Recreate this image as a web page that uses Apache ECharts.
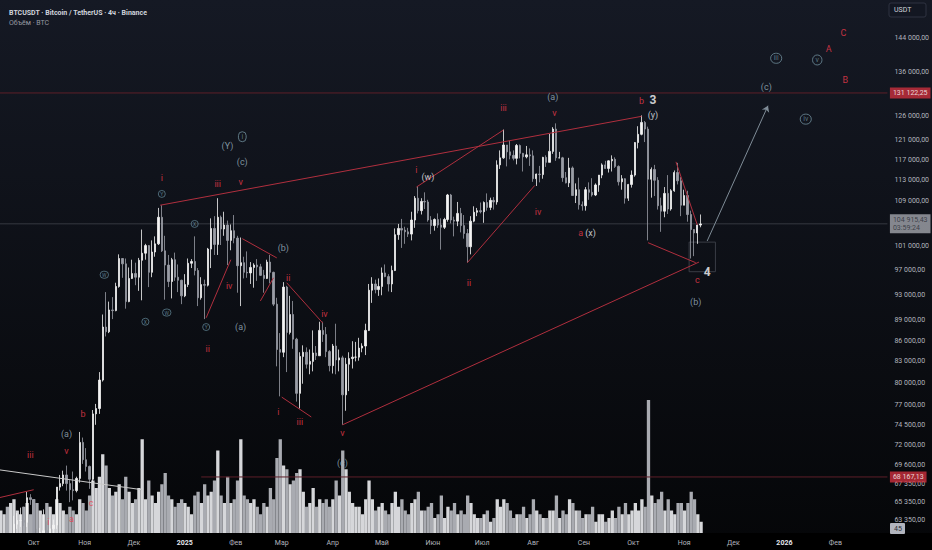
<!DOCTYPE html>
<html><head><meta charset="utf-8">
<script src="https://cdn.jsdelivr.net/npm/echarts@6/dist/echarts.min.js"></script>
<style>html,body{margin:0;padding:0;background:#000}#c{width:932px;height:550px}</style>
</head><body><div id="c"></div><script>
// ---------- data (BTCUSDT, 2-day candles, prices in thousands USDT) ----------
const startDate = '2024-09-10';
const slotDays = 2;
const firstOpen = 57.0;
const closes = [
57.3,60.5,59.1,60.3,62.9,63.3,63.3,63.1,65.8,65.6,
60.8,60.7,62.0,62.2,60.6,62.4,62.8,67.0,67.4,68.4,
67.4,66.7,66.6,68.0,72.3,70.2,69.4,67.9,75.9,76.6,
80.4,88.0,87.3,90.6,90.5,94.3,98.9,98.0,91.9,95.6,
96.4,95.8,98.6,99.8,101.1,96.6,100.0,101.4,106.1,100.2,
97.8,95.1,98.7,95.8,95.3,92.8,94.6,98.1,98.4,96.9,
92.5,94.6,94.5,100.5,104.1,101.3,106.1,104.0,104.7,102.0,
103.7,102.4,97.7,98.2,96.6,96.5,97.4,97.8,97.5,96.1,
95.6,98.3,96.6,91.5,84.7,84.3,94.2,87.2,89.9,86.2,
78.6,83.7,84.3,82.6,83.0,84.2,83.8,87.5,86.9,84.4,
82.4,85.2,83.2,83.5,78.4,82.6,83.4,83.6,83.6,84.9,
85.2,87.5,93.7,94.7,93.8,94.3,96.5,95.9,94.7,96.9,
103.0,104.1,103.8,103.5,103.1,105.6,109.6,107.3,109.0,108.9,
105.6,104.6,105.7,104.7,104.3,105.7,110.2,105.6,105.4,106.8,
104.6,103.2,100.9,105.4,107.0,107.3,107.1,108.8,107.9,109.2,
108.9,116.0,117.4,120.0,118.6,117.9,117.3,119.9,118.3,117.6,
118.0,117.8,113.3,114.2,114.1,117.5,116.5,118.7,123.3,117.4,
117.4,113.5,112.5,115.4,110.1,111.2,108.4,108.2,111.2,110.7,
110.2,112.1,114.0,116.0,115.3,116.8,117.1,115.7,112.7,113.3,
109.6,112.2,114.0,120.5,122.2,124.7,123.3,113.2,115.1,113.0,
108.2,107.2,110.5,107.6,111.0,114.5,112.9,108.3,110.1,106.6,
103.9,103.3,104.7,104.9];
const highs = [
58.0,60.6,60.6,61.3,63.8,64.1,64.7,64.8,66.5,66.2,
65.6,62.4,62.5,64.5,63.2,63.4,63.4,67.0,68.4,68.9,
69.5,67.8,68.8,68.2,73.6,72.9,71.6,69.5,76.4,77.2,
81.5,89.9,93.4,91.9,92.6,94.9,99.6,98.8,98.9,97.4,
98.7,98.2,99.0,103.9,101.4,101.2,102.0,102.7,107.8,108.3,
102.8,99.5,99.0,99.9,97.9,95.4,96.3,98.9,98.8,102.7,
97.3,95.8,95.4,100.7,105.9,106.3,109.6,106.4,107.1,105.5,
104.8,106.5,102.8,102.5,99.2,100.1,98.3,98.1,98.8,98.0,
97.0,98.7,99.5,96.7,92.5,87.1,95.0,94.4,92.8,92.0,
86.4,84.3,85.3,85.0,84.7,87.5,85.2,88.8,88.8,88.0,
84.6,85.5,88.5,84.7,83.8,83.5,84.3,85.9,85.8,86.4,
85.6,88.5,94.7,95.8,95.4,95.6,97.4,97.9,96.3,97.7,
104.1,104.9,105.8,104.4,104.2,107.1,110.0,111.9,109.6,110.7,
109.3,106.3,105.9,106.8,105.9,106.0,110.4,110.4,106.2,108.9,
107.8,106.5,104.0,106.3,108.1,107.8,108.8,109.0,110.5,109.7,
109.8,116.9,118.9,123.2,120.0,120.9,118.9,120.2,120.1,118.4,
119.8,119.3,118.9,114.3,115.8,117.6,117.9,122.3,123.7,124.5,
118.6,117.6,114.6,117.4,115.7,112.4,113.5,109.0,111.7,112.6,
113.4,112.4,114.0,116.3,116.8,116.9,117.9,117.5,115.9,114.0,
113.4,112.3,114.9,120.6,123.9,126.2,125.0,123.8,115.5,116.0,
113.6,109.7,111.7,114.0,111.3,114.9,116.4,113.6,111.2,111.0,
107.3,104.0,104.8,106.6];
const lows = [
55.6,57.4,58.7,57.5,59.2,62.4,62.6,62.7,62.6,65.0,
60.2,59.8,60.5,61.8,60.3,58.9,61.9,62.4,66.6,67.1,
66.6,65.3,65.5,66.4,67.5,69.7,68.8,66.8,67.5,74.5,
75.9,80.2,86.6,87.1,89.2,90.4,94.1,95.7,90.8,91.8,
95.5,94.5,93.6,92.1,98.7,94.2,95.8,99.2,101.2,100.0,
92.2,94.2,92.4,95.2,93.4,91.5,92.6,94.2,97.3,96.1,
91.2,92.2,89.2,94.3,97.3,99.5,99.5,101.2,102.8,97.8,
100.3,101.5,93.3,91.2,95.6,95.7,94.7,94.1,95.2,96.0,
93.3,95.5,94.8,91.2,82.3,78.2,83.6,81.5,86.9,84.8,
77.5,76.6,79.9,82.0,81.2,81.6,83.2,83.8,85.8,83.6,
81.6,81.3,81.2,81.6,74.5,76.3,78.9,82.0,83.0,83.1,
84.3,83.9,87.4,91.7,93.2,92.8,92.9,95.8,93.5,93.4,
96.8,102.1,100.7,101.4,102.6,102.0,104.2,106.8,106.6,107.6,
105.3,103.1,103.7,104.2,100.4,104.0,105.3,105.0,102.7,104.5,
103.4,102.3,98.2,99.6,105.2,106.3,106.8,105.1,107.3,107.4,
107.5,108.4,115.2,117.2,115.7,117.1,116.9,116.1,117.3,114.7,
117.3,115.8,112.7,111.9,112.6,113.3,115.6,116.5,118.2,116.8,
117.3,112.7,112.4,111.7,110.1,108.7,107.5,107.3,107.3,109.3,
109.9,110.0,110.8,113.4,115.2,114.5,114.7,115.4,112.0,111.2,
108.6,109.1,111.6,113.7,119.3,122.0,120.6,102.0,109.7,110.0,
107.5,103.5,106.1,106.7,107.3,110.8,112.2,106.3,108.3,105.3,
98.9,99.3,101.4,104.3];
// peak 4h volume inside each 2-day slot, thousands BTC (visual estimate)
const volumes = [
6,5,7,8,9,6,5,7,8,5,
9,8,6,5,8,7,5,9,8,6,
5,7,6,5,9,8,6,10,14,12,
15,21,18,12,10,11,13,9,15,11,
8,9,12,25,9,14,10,8,11,13,
16,10,9,7,8,9,8,7,5,10,
11,8,13,10,11,14,22,10,8,15,
8,9,14,25,10,9,8,9,7,5,
8,7,12,9,20,25,18,17,13,14,
16,17,11,7,8,12,7,9,8,9,
7,9,14,10,22,17,11,8,7,7,
5,9,14,9,6,7,8,6,5,8,
11,7,9,6,5,8,9,11,6,6,
7,8,4,5,10,4,7,6,8,5,
6,5,10,8,5,4,4,5,6,3,
4,9,7,9,8,6,4,5,5,7,
4,5,9,6,5,4,4,6,6,10,
4,6,5,9,8,6,6,4,5,5,
7,3,5,5,3,4,6,4,7,5,
8,5,6,8,6,9,7,35.5,10,8,
9,11,6,9,6,5,8,8,6,8,
11,9,5,3];
const priceTicks = [144000,136000,126000,121000,117000,113000,109000,101000,97000,93000,89000,86000,83000,80000,77000,74500,72000,69600,67350,65350,63350];
const monthTicks = ['2024-10-01','2024-11-01','2024-12-01','2025-01-01','2025-02-01','2025-03-01','2025-04-01','2025-05-01','2025-06-01','2025-07-01','2025-08-01','2025-09-01','2025-10-01','2025-11-01','2025-12-01','2026-01-01','2026-02-01'];
const monthLabels = ['Окт','Ноя','Дек','2025','Фев','Мар','Апр','Май','Июн','Июл','Авг','Сен','Окт','Ноя','Дек','2026','Фев'];
const levelTop = 131122.25;
const levelBottom = 68167.13;
const levelBottomFrom = '2025-01-11';
const lastPrice = 104915.43;
const lastTimer = '03:59:24';
const lastVolume = '45';
// annotation drawings: [text, date, price]
const redLabels = [
 ['iii','2024-09-29',70800],['v','2024-10-21',71300],['b','2024-10-31',75900],['c','2024-11-05',65200],
 ['a','2024-10-24',63500],['i','2024-10-10',63100],['i','2024-12-18',113500],['iii','2025-01-21',112300],
 ['v','2025-02-04',112700],['ii','2025-01-15',84800],['iv','2025-01-28',94400],['ii','2025-03-05',95700],
 ['i','2025-02-27',76200],['iii','2025-03-12',74800],['iv','2025-03-27',90000],['v','2025-04-07',73500],
 ['i','2025-05-22',115000],['ii','2025-06-23',94900],['iii','2025-07-14',127900],['iv','2025-08-04',107000],
 ['v','2025-08-14',126700],['a','2025-08-30',103300],['b','2025-10-06',129400],['c','2025-11-09',95400],
 ['A','2026-01-28',141300],['B','2026-02-07',134100],['C','2026-02-06',145200]];
const blueLabels = [
 ['(a)','2024-10-21',73400],['(Y)','2025-01-27',119800],['(c)','2025-02-05',116600],['(b)','2025-03-02',100700],
 ['(a)','2025-02-04',88000],['(a)','2025-08-13',130200],['(b)','2025-11-08',91900],['(c)','2025-04-07',69800],
 ['(c)','2025-12-21',132500]];
const whiteLabels = [['(w)','2025-05-29',113600],['(x)','2025-09-05',103300],['(y)','2025-10-13',126300]];
const bigLabels = [['3','2025-10-13',129600],['4','2025-11-15',96700]];
const circledSmall = [['Y','2024-12-18',110400],['X','2025-01-07',104900],['W','2024-11-13',96200],['X','2024-12-08',88800],['W','2024-12-21',90200],['Y','2025-01-14',88000]];
const circledBig = [['i','2025-02-05',121700],['iii','2025-12-27',139100],['v','2026-01-21',138700],['iv','2026-01-14',125400]];
const redLines = [
 [['2024-12-17',108300],['2025-10-06',126000]],
 [['2025-04-07',74500],['2025-11-10',98300]],
 [['2025-05-22',111700],['2025-07-14',123100]],
 [['2025-06-22',98200],['2025-08-02',112000]],
 [['2025-10-10',101600],['2025-11-08',98200]],
 [['2025-10-27',116600],['2025-11-09',104700]],
 [['2025-02-05',102300],['2025-02-26',99000]],
 [['2025-02-16',92000],['2025-02-24',95700]],
 [['2025-03-04',94900],['2025-03-26',88600]],
 [['2025-03-01',78100],['2025-03-19',75500]],
 [['2025-01-14',89400],['2025-01-29',98700]],
 [['2024-09-10',65800],['2024-10-01',66700]]];
const whiteLines = [[['2024-09-10',69000],['2024-12-06',66700]]];
const arrowLine = [['2025-11-15',101900],['2025-12-22',128300]];
const boxArea = [['2025-11-04',101700],['2025-11-20',96700]];

// ---------- helpers ----------
const DAY = 86400000;
const ts = d => Date.parse(d + 'T00:00:00Z');
const L = p => Math.log(p);
const xMin = Date.UTC(2024, 8, 10, 12), xMax = Date.UTC(2026, 2, 4, 17);
const yMinPrice = 61960, yMaxPrice = 153620;
function fmt(v) {
  const s = v.toFixed(2); const parts = s.split('.');
  return parts[0].replace(/\B(?=(\d{3})+(?!\d))/g, ' ') + ',' + parts[1];
}
const t0 = ts(startDate);
const candleData = [], volData = [];
let prev = firstOpen;
for (let i = 0; i < closes.length; i++) {
  const t = t0 + (i * slotDays + slotDays / 2) * DAY;
  const o = prev, c = closes[i];
  candleData.push([t, L(o * 1000), L(c * 1000), L(lows[i] * 1000), L(highs[i] * 1000)]);
  volData.push({ value: [t, volumes[i]], itemStyle: { color: c >= o ? '#d6d7da' : '#a9abb1' } });
  prev = c;
}
const pt = a => [ts(a[0]), L(a[1])];
const labelData = arr => arr.map(a => ({ name: a[0], value: [ts(a[1]), L(a[2])] }));
const FONT = 'Roboto, "Noto Sans", sans-serif';
function labelSeries(arr, label) {
  return { type: 'scatter', data: labelData(arr), symbolSize: 1, itemStyle: { color: 'rgba(0,0,0,0)' }, silent: true, z: 20,
    label: Object.assign({ show: true, position: 'inside', formatter: '{b}', fontFamily: FONT }, label) };
}
function linesSeries(segs, color, extra) {
  return Object.assign({ type: 'lines', coordinateSystem: 'cartesian2d', xAxisIndex: 0, yAxisIndex: 0, z: 10, silent: true,
    lineStyle: { color: color, width: 1, opacity: 1 }, data: segs.map(s => ({ coords: s })) }, extra || {});
}
function levelLine(x0, price, color) {
  return { type: 'line', xAxisIndex: 0, yAxisIndex: 0, silent: true, z: 3, showSymbol: false, symbol: 'none',
    color: color, itemStyle: { color: color }, lineStyle: { color: color, width: 1, opacity: 1 },
    data: [[x0, L(price)], [xMax, L(price)]] };
}
function priceTag(price, text, bg, fg) {
  return { type: 'scatter', xAxisIndex: 0, yAxisIndex: 0, silent: true, z: 30, symbolSize: 1, itemStyle: { color: 'rgba(0,0,0,0)' },
    data: [{ value: [xMax, L(price)], name: text }],
    label: { show: true, position: 'right', distance: 2, formatter: '{b}', backgroundColor: bg, color: fg, fontSize: 7, lineHeight: 8,
      padding: [2, 3, 1, 3], fontFamily: FONT } };
}

const chart = echarts.init(document.getElementById('c'), null, { renderer: 'svg' });
chart.setOption({
  animation: false,
  backgroundColor: { type: 'linear', x: 0, y: 0, x2: 0, y2: 1, colorStops: [{ offset: 0, color: '#151924' }, { offset: 1, color: '#050608' }] },
  textStyle: { fontFamily: FONT },
  title: { text: 'BTCUSDT · Bitcoin / TetherUS · 4ч · Binance', subtext: 'Объём · BTC', left: 4, top: 4, itemGap: 3,
    textStyle: { fontSize: 7, color: '#d1d4dc', fontWeight: 'bold', fontFamily: FONT },
    subtextStyle: { fontSize: 7, color: '#9598a1', fontFamily: FONT } },
  grid: [
    { left: 0, right: 44, top: 0, bottom: 17 },
    { left: 0, right: 44, bottom: 17, height: 150 }
  ],
  xAxis: [
    { type: 'value', gridIndex: 0, min: xMin, max: xMax, axisLine: { show: false }, axisTick: { show: false }, splitLine: { show: false }, z: 60,
      axisLabel: { customValues: monthTicks.map(ts), color: '#b2b5be', fontSize: 7, margin: 6,
        formatter: v => { const i = monthTicks.map(ts).indexOf(v); const s = i >= 0 ? monthLabels[i] : ''; return /^\d{4}$/.test(s) ? '{y|' + s + '}' : s; },
        rich: { y: { color: '#e6e8ee', fontWeight: 'bold', fontSize: 7 } } } },
    { type: 'value', gridIndex: 1, min: xMin, max: xMax, show: false }
  ],
  yAxis: [
    { type: 'value', gridIndex: 0, position: 'right', min: L(yMinPrice), max: L(yMaxPrice), axisLine: { show: false }, axisTick: { show: false }, splitLine: { show: false },
      axisLabel: { customValues: priceTicks.map(L), color: '#b2b5be', fontSize: 7, margin: 7, formatter: v => fmt(Math.round(Math.exp(v))) } },
    { type: 'value', gridIndex: 1, min: 0, max: 40, show: false }
  ],
  graphic: [
    { type: 'rect', shape: { x: 0, y: 533, width: 932, height: 17 }, style: { fill: '#000' }, z: 50 },
    { type: 'rect', shape: { x: 889, y: 3, width: 37, height: 14, r: 2 }, style: { fill: '#131722', stroke: '#2f3341', lineWidth: 1 }, z: 51 },
    { type: 'text', x: 894, y: 6, style: { text: 'USDT', fill: '#d1d4dc', fontSize: 7, fontFamily: FONT }, z: 52 },
    { type: 'rect', shape: { x: 890, y: 523, width: 15, height: 11, r: 1 }, style: { fill: '#b2b5be' }, z: 51 },
    { type: 'text', x: 894, y: 525.5, style: { text: lastVolume, fill: '#2a2d35', fontSize: 7, fontFamily: FONT }, z: 52 }
  ],
  series: [
    { type: 'bar', xAxisIndex: 1, yAxisIndex: 1, data: volData, barWidth: 3.3, silent: true, z: 1 },
    levelLine(xMin, levelTop, '#5e1f29'),
    levelLine(ts(levelBottomFrom), levelBottom, '#5e1f29'),
    levelLine(xMin, lastPrice, '#363941'),
    { type: 'candlestick', xAxisIndex: 0, yAxisIndex: 0, data: candleData, encode: { x: 0, y: [1, 2, 3, 4] }, barWidth: 1.8, z: 5, silent: true, clip: true,
      itemStyle: { color: '#f4f4f4', color0: '#9a9da6', borderColor: '#f4f4f4', borderColor0: '#9a9da6', borderWidth: 0.8 },
      markArea: { silent: true, itemStyle: { color: 'rgba(0,0,0,0)', borderColor: '#3a3d46', borderWidth: 1 },
        data: [[ { coord: pt(boxArea[0]) }, { coord: pt(boxArea[1]) } ]] } },
    linesSeries(redLines.map(l => l.map(pt)), '#b02f3e'),
    linesSeries(whiteLines.map(l => l.map(pt)), '#c9c9c9'),
    linesSeries([arrowLine.map(pt)], '#7f8c97', { symbol: ['none', 'arrow'], symbolSize: 6 }),
    priceTag(levelTop, fmt(levelTop), '#cc2f3d', '#ffffff'),
    priceTag(levelBottom, fmt(levelBottom), '#cc2f3d', '#ffffff'),
    priceTag(lastPrice, fmt(lastPrice) + '\n' + lastTimer, '#a2a5ad', '#2a2d35'),
    labelSeries(redLabels, { color: '#ee3b4c', fontSize: 9 }),
    labelSeries(blueLabels, { color: '#9fb4c0', fontSize: 9 }),
    labelSeries(whiteLabels, { color: '#eceff4', fontSize: 9 }),
    labelSeries(bigLabels, { color: '#ffffff', fontSize: 12, fontWeight: 'bold' }),
    labelSeries(circledSmall, { color: '#6e98aa', fontSize: 5, borderColor: '#6e98aa', borderWidth: 0.8, borderRadius: 5, padding: [1, 2, 1, 2] }),
    labelSeries(circledBig, { color: '#6f8f9c', fontSize: 7, borderColor: '#6f8f9c', borderWidth: 1, borderRadius: 7, padding: [2, 3, 1, 3] })
  ]
});
</script></body></html>
